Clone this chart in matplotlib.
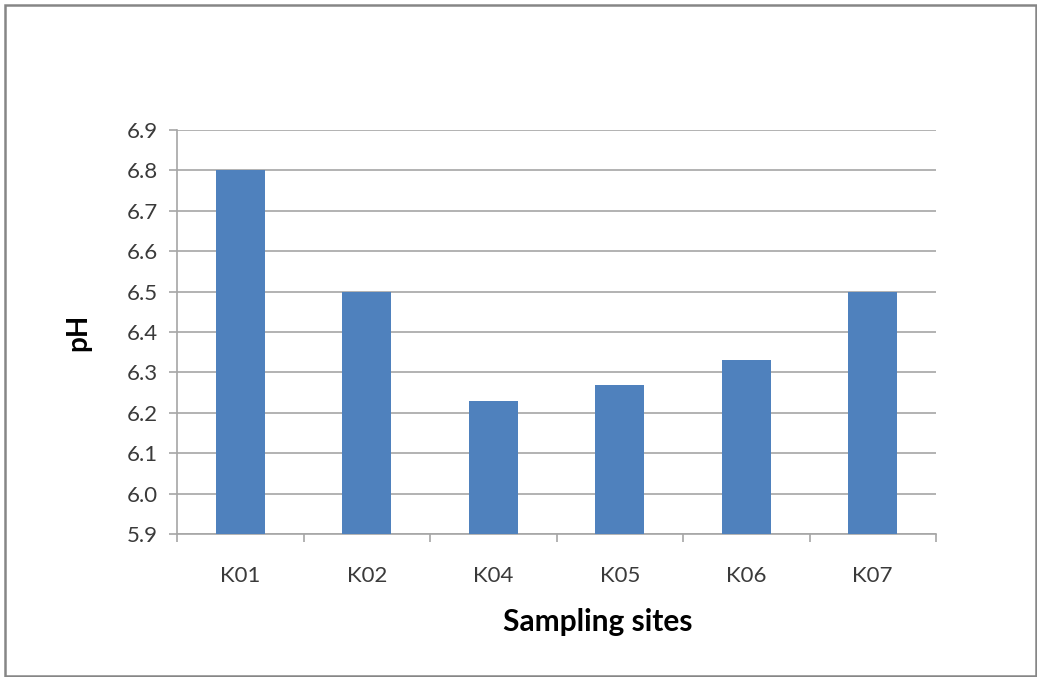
import matplotlib
matplotlib.use("Agg")
import matplotlib.pyplot as plt
from matplotlib.patches import Rectangle

sites = ["K01", "K02", "K04", "K05", "K06", "K07"]
ph_values = [6.8, 6.5, 6.23, 6.27, 6.33, 6.5]
y_ticks = [5.9, 6.0, 6.1, 6.2, 6.3, 6.4, 6.5, 6.6, 6.7, 6.8, 6.9]

W, H = 1037, 677
fig = plt.figure(figsize=(W / 100, H / 100), dpi=100)
fig.patch.set_facecolor("white")

# outer chart frame
fig.patches.append(Rectangle((5 / W, 1.5 / H), 1 - 6 / W, 1 - 6 / H,
                             transform=fig.transFigure, fill=False,
                             edgecolor="#868686", linewidth=1.8))

ax = fig.add_axes([177 / W, 1 - 534 / H, 759 / W, 404 / H])
x = list(range(len(sites)))
ax.bar(x, [v - 5.9 for v in ph_values], bottom=5.9, width=0.39,
       color="#4F81BD", zorder=3)

ax.set_xlim(-0.5, len(sites) - 0.5)
ax.set_ylim(5.9, 6.9)
ax.set_yticks(y_ticks)
ax.set_yticklabels([f"{t:.1f}" for t in y_ticks])
ax.set_xticks(x)
ax.set_xticklabels(sites)
ax.set_xticks([i - 0.5 for i in range(len(sites) + 1)], minor=True)

ax.grid(axis="y", color="#a6a6a6", linewidth=1.2, zorder=0)
for s in ["top", "right"]:
    ax.spines[s].set_visible(False)
for s in ["left", "bottom"]:
    ax.spines[s].set_color("#a6a6a6")
    ax.spines[s].set_linewidth(1.2)

ax.tick_params(axis="y", length=6, width=1.2, color="#a6a6a6",
               labelsize=16, labelcolor="#3a3a3a", pad=8)
ax.tick_params(axis="x", which="major", length=0, labelsize=16,
               labelcolor="#3a3a3a", pad=23)
ax.tick_params(axis="x", which="minor", length=6, width=1.2, color="#a6a6a6")

for lab in ax.get_xticklabels() + ax.get_yticklabels():
    lab.set_family("Lato")

ax.set_xlabel("Sampling sites", fontsize=21.5, fontweight="bold", family="Lato")
ax.set_ylabel("pH", fontsize=20, fontweight="bold", family="Lato")
ax.xaxis.set_label_coords((598 - 177) / 759, (534 - 622) / 404)
ax.xaxis.label.set_va("center")
ax.yaxis.set_label_coords((78 - 177) / 759, 0.5)
ax.yaxis.label.set_va("center")

fig.savefig("out.png", dpi=100)
